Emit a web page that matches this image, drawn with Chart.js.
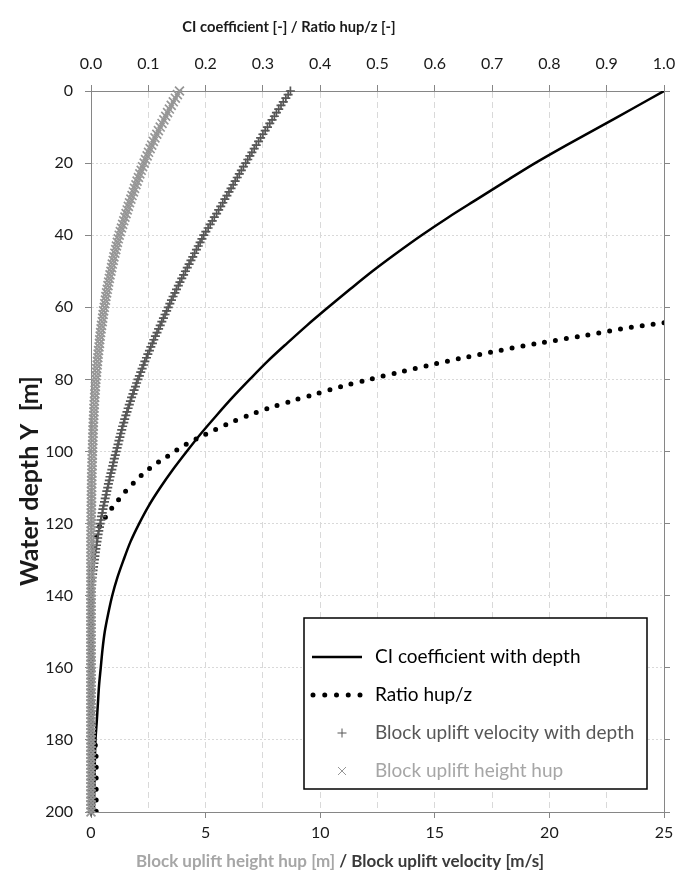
<!DOCTYPE html>
<html>
<head>
<meta charset="utf-8">
<title>Block uplift with water depth</title>
<script src="https://cdn.jsdelivr.net/npm/chart.js@4.4.1/dist/chart.umd.min.js"></script>
<style>
  html, body { margin: 0; padding: 0; background: #ffffff; }
  #wrap { width: 694px; height: 881px; }
</style>
</head>
<body>
<div id="wrap"><canvas id="chart" width="694" height="881"></canvas></div>
<script>
// ---- tick values ----
const depthTicks = [0, 20, 40, 60, 80, 100, 120, 140, 160, 180, 200];
const coefTicks = [0, 0.1, 0.2, 0.3, 0.4, 0.5, 0.6, 0.7, 0.8, 0.9, 1.0];
const speedTicks = [0, 5, 10, 15, 20, 25];

// ---- CI coefficient [-] vs water depth [m] ----
const ciDepth = [0, 5, 10, 15, 20, 25, 30, 35, 40, 45, 50, 55, 60, 65, 70, 75, 80, 85, 90, 95,
  100, 105, 110, 115, 120, 125, 130, 135, 140, 145, 150, 155, 160, 165, 170, 175, 180, 185, 190, 195, 200];
const ciValue = [1.000, 0.944, 0.887, 0.830, 0.775, 0.724, 0.674, 0.624, 0.577, 0.533,
  0.491, 0.452, 0.414, 0.377, 0.342, 0.308, 0.277, 0.247, 0.219, 0.192,
  0.167, 0.143, 0.121, 0.101, 0.084, 0.069, 0.057, 0.046, 0.037, 0.030,
  0.024, 0.020, 0.017, 0.014, 0.012, 0.010, 0.0078, 0.0068, 0.0062, 0.0056, 0.005];

// ---- ratio hup/z [-] vs water depth [m] ----
const ratioDepth = [64.3, 66, 68, 70, 72, 74, 76, 78, 80, 82,
  84, 86, 88, 90, 92, 94, 96, 98, 100, 102,
  104, 106, 108, 110, 112, 114, 116, 118, 120, 122,
  125, 130, 140, 150, 160, 170, 178, 182, 186, 190, 195, 200];
const ratioValue = [1.000, 0.925, 0.855, 0.780, 0.712, 0.650, 0.592, 0.538, 0.486, 0.437,
  0.393, 0.350, 0.310, 0.275, 0.243, 0.216, 0.190, 0.166, 0.146, 0.127,
  0.108, 0.092, 0.079, 0.066, 0.055, 0.045, 0.035, 0.026, 0.018, 0.011,
  0.006, 0.003, 0.002, 0.002, 0.002, 0.002, 0.003, 0.008, 0.009, 0.009, 0.009, 0.009];

// ---- block uplift: depth [m], velocity [m/s], height hup [m] ----
const blockDepth = [
  0, 1, 2, 3, 4, 5, 6, 7, 8, 9,
  10, 11, 12, 13, 14, 15, 16, 17, 18, 19,
  20, 21, 22, 23, 24, 25, 26, 27, 28, 29,
  30, 31, 32, 33, 34, 35, 36, 37, 38, 39,
  40, 41, 42, 43, 44, 45, 46, 47, 48, 49,
  50, 51, 52, 53, 54, 55, 56, 57, 58, 59,
  60, 61, 62, 63, 64, 65, 66, 67, 68, 69,
  70, 71, 72, 73, 74, 75, 76, 77, 78, 79,
  80, 81, 82, 83, 84, 85, 86, 87, 88, 89,
  90, 91, 92, 93, 94, 95, 96, 97, 98, 99,
  100, 101, 102, 103, 104, 105, 106, 107, 108, 109,
  110, 111, 112, 113, 114, 115, 116, 117, 118, 119,
  120, 121, 122, 123, 124, 125, 126, 127, 128, 129,
  130, 131, 132, 133, 134, 135, 136, 137, 138, 139,
  140, 141, 142, 143, 144, 145, 146, 147, 148, 149,
  150, 151, 152, 153, 154, 155, 156, 157, 158, 159,
  160, 161, 162, 163, 164, 165, 166, 167, 168, 169,
  170, 171, 172, 173, 174, 175, 176, 177, 178, 179,
  180, 181, 182, 183, 184, 185, 186, 187, 188, 189,
  190, 191, 192, 193, 194, 195, 196, 197, 198, 199,
  200];
const velocityValue = [
  8.70, 8.60, 8.50, 8.39, 8.29, 8.19, 8.09, 8.00, 7.90, 7.80,
  7.70, 7.60, 7.50, 7.40, 7.31, 7.21, 7.12, 7.02, 6.93, 6.84,
  6.75, 6.65, 6.56, 6.47, 6.38, 6.29, 6.20, 6.11, 6.02, 5.93,
  5.84, 5.75, 5.66, 5.57, 5.48, 5.38, 5.29, 5.20, 5.11, 5.01,
  4.92, 4.84, 4.76, 4.68, 4.60, 4.52, 4.44, 4.36, 4.28, 4.20,
  4.12, 4.04, 3.96, 3.88, 3.81, 3.73, 3.66, 3.58, 3.51, 3.44,
  3.37, 3.30, 3.23, 3.16, 3.09, 3.02, 2.95, 2.88, 2.81, 2.74,
  2.68, 2.61, 2.55, 2.48, 2.42, 2.35, 2.29, 2.23, 2.17, 2.11,
  2.05, 1.99, 1.94, 1.88, 1.83, 1.77, 1.72, 1.67, 1.62, 1.57,
  1.52, 1.47, 1.43, 1.38, 1.34, 1.30, 1.26, 1.22, 1.18, 1.14,
  1.10, 1.06, 1.02, 0.98, 0.95, 0.91, 0.87, 0.83, 0.80, 0.76,
  0.73, 0.69, 0.66, 0.62, 0.59, 0.55, 0.52, 0.49, 0.46, 0.43,
  0.40, 0.37, 0.34, 0.31, 0.29, 0.26, 0.24, 0.21, 0.19, 0.17,
  0.15, 0.13, 0.11, 0.09, 0.07, 0.05, 0.04, 0.03, 0.02, 0.01,
  0, 0, 0, 0, 0, 0, 0, 0, 0, 0,
  0, 0, 0, 0, 0, 0, 0, 0, 0, 0,
  0, 0, 0, 0, 0, 0, 0, 0, 0, 0,
  0, 0, 0, 0, 0, 0, 0, 0, 0, 0,
  0, 0, 0, 0, 0, 0, 0, 0, 0, 0,
  0, 0, 0, 0, 0, 0, 0, 0, 0, 0,
  0];
const hupValue = [
  3.86, 3.77, 3.68, 3.59, 3.50, 3.42, 3.34, 3.26, 3.18, 3.10,
  3.02, 2.94, 2.87, 2.79, 2.72, 2.65, 2.58, 2.51, 2.45, 2.38,
  2.32, 2.25, 2.19, 2.13, 2.07, 2.01, 1.96, 1.90, 1.85, 1.79,
  1.74, 1.68, 1.63, 1.58, 1.53, 1.48, 1.43, 1.38, 1.33, 1.28,
  1.23, 1.19, 1.15, 1.11, 1.08, 1.04, 1.00, 0.97, 0.93, 0.90,
  0.87, 0.83, 0.80, 0.77, 0.74, 0.71, 0.68, 0.65, 0.63, 0.60,
  0.58, 0.55, 0.53, 0.51, 0.49, 0.46, 0.44, 0.42, 0.40, 0.38,
  0.37, 0.35, 0.33, 0.31, 0.30, 0.28, 0.27, 0.25, 0.24, 0.23,
  0.21, 0.20, 0.19, 0.18, 0.17, 0.16, 0.15, 0.14, 0.13, 0.13,
  0.12, 0.11, 0.10, 0.10, 0.09, 0.09, 0.08, 0.08, 0.07, 0.07,
  0.06, 0.06, 0.05, 0.05, 0.05, 0.04, 0.04, 0.03, 0.03, 0.03,
  0.03, 0.02, 0.02, 0.02, 0.02, 0.02, 0.01, 0.01, 0.01, 0.01,
  0.01, 0.01, 0.01, 0, 0, 0, 0, 0, 0, 0,
  0, 0, 0, 0, 0, 0, 0, 0, 0, 0,
  0, 0, 0, 0, 0, 0, 0, 0, 0, 0,
  0, 0, 0, 0, 0, 0, 0, 0, 0, 0,
  0, 0, 0, 0, 0, 0, 0, 0, 0, 0,
  0, 0, 0, 0, 0, 0, 0, 0, 0, 0,
  0, 0, 0, 0, 0, 0, 0, 0, 0, 0,
  0, 0, 0, 0, 0, 0, 0, 0, 0, 0,
  0];

// ---- texts ----
const topTitle = 'CI coefficient [-] / Ratio hup/z [-]';
const yTitle = 'Water depth Y  [m]';
const bottomTitleA = 'Block uplift height hup [m]';
const bottomTitleB = ' / Block uplift velocity [m/s]';
const seriesNames = ['CI coefficient with depth', 'Ratio hup/z',
  'Block uplift velocity with depth', 'Block uplift height hup'];

// ---- styling ----
const FONT = 'Lato, "Open Sans", sans-serif';
const AXIS = '#868686';
const GRID = '#d9d9d9';
const TEXT = '#1a1a1a';
const DARK = '#575757';
const LIGHT = '#969696';
const LIGHT_TEXT = '#a6a6a6';

const pairs = (ys, xs) => ys.map((y, i) => ({ x: xs[i], y: y }));

const titlesPlugin = {
  id: 'axisTitles',
  afterDraw(chart) {
    const ctx = chart.ctx;
    ctx.save();
    ctx.textBaseline = 'middle';
    ctx.font = 'bold 14.7px ' + FONT;
    ctx.fillStyle = TEXT;
    ctx.textAlign = 'center';
    ctx.fillText(topTitle, 289, 27);

    // two-tone bottom title
    ctx.font = 'bold 17px ' + FONT;
    const wA = ctx.measureText(bottomTitleA).width;
    const wB = ctx.measureText(bottomTitleB).width;
    const start = 340 - (wA + wB) / 2;
    ctx.textAlign = 'left';
    ctx.fillStyle = LIGHT_TEXT;
    ctx.fillText(bottomTitleA, start, 862);
    ctx.fillStyle = '#3a3a3a';
    ctx.fillText(bottomTitleB, start + wA, 862);

    // vertical title
    ctx.translate(30, 481);
    ctx.rotate(-Math.PI / 2);
    ctx.textAlign = 'center';
    ctx.font = 'bold 25px ' + FONT;
    ctx.fillStyle = TEXT;
    ctx.fillText(yTitle, 0, 0);
    ctx.restore();
  }
};

const legendPlugin = {
  id: 'boxLegend',
  afterDraw(chart) {
    const ctx = chart.ctx;
    const ds = chart.data.datasets;
    const box = { x: 304, y: 618, w: 343, h: 171 };
    const rows = [657, 695, 733, 771];
    const textX = 375;
    ctx.save();
    ctx.fillStyle = '#ffffff';
    ctx.fillRect(box.x, box.y, box.w, box.h);
    ctx.lineWidth = 1.5;
    ctx.strokeStyle = '#000000';
    ctx.strokeRect(box.x, box.y, box.w, box.h);

    // CI line sample
    ctx.beginPath();
    ctx.lineWidth = ds[0].borderWidth;
    ctx.strokeStyle = ds[0].borderColor;
    ctx.moveTo(312, rows[0]);
    ctx.lineTo(362, rows[0]);
    ctx.stroke();

    // ratio dotted sample
    ctx.beginPath();
    ctx.lineWidth = ds[1].borderWidth;
    ctx.strokeStyle = ds[1].borderColor;
    ctx.lineCap = 'round';
    ctx.setLineDash([0, 11.75]);
    ctx.moveTo(313, rows[1]);
    ctx.lineTo(361, rows[1]);
    ctx.stroke();
    ctx.setLineDash([]);
    ctx.lineCap = 'butt';

    // marker samples
    ctx.lineWidth = 1;
    ctx.strokeStyle = ds[2].pointBorderColor;
    ctx.beginPath();
    ctx.moveTo(337.5, rows[2]); ctx.lineTo(346.5, rows[2]);
    ctx.moveTo(342, rows[2] - 4.5); ctx.lineTo(342, rows[2] + 4.5);
    ctx.stroke();
    ctx.strokeStyle = ds[3].pointBorderColor;
    ctx.beginPath();
    ctx.moveTo(338, rows[3] - 4); ctx.lineTo(346, rows[3] + 4);
    ctx.moveTo(346, rows[3] - 4); ctx.lineTo(338, rows[3] + 4);
    ctx.stroke();

    ctx.font = '19px ' + FONT;
    ctx.textBaseline = 'middle';
    ctx.textAlign = 'left';
    const colors = ['#000000', '#000000', DARK, LIGHT_TEXT];
    seriesNames.forEach((name, i) => {
      ctx.fillStyle = colors[i];
      ctx.fillText(name, textX, rows[i]);
    });
    ctx.restore();
  }
};

const tickFont = { family: FONT, size: 16 };

new Chart(document.getElementById('chart'), {
  type: 'scatter',
  data: {
    datasets: [
      {
        label: seriesNames[0],
        data: pairs(ciDepth, ciValue),
        xAxisID: 'xTop', yAxisID: 'y',
        showLine: true, tension: 0.3,
        borderColor: '#000000', borderWidth: 2.5,
        pointRadius: 0, order: 3
      },
      {
        label: seriesNames[1],
        data: pairs(ratioDepth, ratioValue),
        xAxisID: 'xTop', yAxisID: 'y',
        showLine: true, tension: 0.3,
        borderColor: '#000000', borderWidth: 5,
        borderDash: [0, 11], borderCapStyle: 'round',
        pointRadius: 0, order: 2
      },
      {
        label: seriesNames[2],
        data: pairs(blockDepth, velocityValue),
        xAxisID: 'xBot', yAxisID: 'y',
        showLine: false,
        pointStyle: 'cross', pointRadius: 4.5, pointBorderWidth: 1.7,
        pointBorderColor: DARK, pointBackgroundColor: DARK,
        borderColor: DARK, clip: false, order: 1
      },
      {
        label: seriesNames[3],
        data: pairs(blockDepth, hupValue),
        xAxisID: 'xBot', yAxisID: 'y',
        showLine: false,
        pointStyle: 'crossRot', pointRadius: 6.3, pointBorderWidth: 1.7,
        pointBorderColor: LIGHT, pointBackgroundColor: LIGHT,
        borderColor: LIGHT, clip: false, order: 0
      }
    ]
  },
  options: {
    responsive: false,
    animation: false,
    devicePixelRatio: 1,
    layout: { padding: 0 },
    events: [],
    plugins: {
      legend: { display: false },
      tooltip: { enabled: false }
    },
    scales: {
      xTop: {
        type: 'linear', position: 'top', min: 0, max: 1,
        afterBuildTicks: s => { s.ticks = coefTicks.map(v => ({ value: v })); },
        afterFit: s => { s.height = 91; },
        ticks: {
          callback: v => Number(v).toFixed(1),
          font: tickFont, color: TEXT, padding: 12, maxRotation: 0, autoSkip: false
        },
        grid: {
          color: GRID, lineWidth: 1, drawTicks: true, tickLength: 6,
          tickColor: AXIS, tickWidth: 1, tickBorderDash: []
        },
        border: { display: true, color: AXIS, width: 1, dash: [6, 4] }
      },
      xBot: {
        type: 'linear', position: 'bottom', min: 0, max: 25,
        afterBuildTicks: s => { s.ticks = speedTicks.map(v => ({ value: v })); },
        afterFit: s => { s.height = 69; },
        ticks: { font: tickFont, color: TEXT, padding: 5, maxRotation: 0, autoSkip: false },
        grid: {
          drawOnChartArea: false, drawTicks: true, tickLength: 6,
          tickColor: AXIS, tickWidth: 1, color: AXIS
        },
        border: { display: true, color: AXIS, width: 1 }
      },
      y: {
        type: 'linear', position: 'left', reverse: true, min: 0, max: 200,
        afterBuildTicks: s => { s.ticks = depthTicks.map(v => ({ value: v })); },
        afterFit: s => { s.width = 91; },
        ticks: { font: tickFont, color: TEXT, padding: 12, autoSkip: false },
        grid: {
          color: GRID, lineWidth: 1, drawTicks: true, tickLength: 6,
          tickColor: AXIS, tickWidth: 1, tickBorderDash: []
        },
        border: { display: true, color: AXIS, width: 1, dash: [2, 2] }
      },
      yRight: {
        type: 'linear', position: 'right', reverse: true, min: 0, max: 200,
        afterBuildTicks: s => { s.ticks = depthTicks.map(v => ({ value: v })); },
        afterFit: s => { s.width = 30; },
        ticks: { display: false },
        grid: {
          drawOnChartArea: false, drawTicks: true, tickLength: 6,
          tickColor: AXIS, tickWidth: 1, color: AXIS
        },
        border: { display: true, color: AXIS, width: 1 }
      }
    }
  },
  plugins: [titlesPlugin, legendPlugin]
});
</script>
</body>
</html>
